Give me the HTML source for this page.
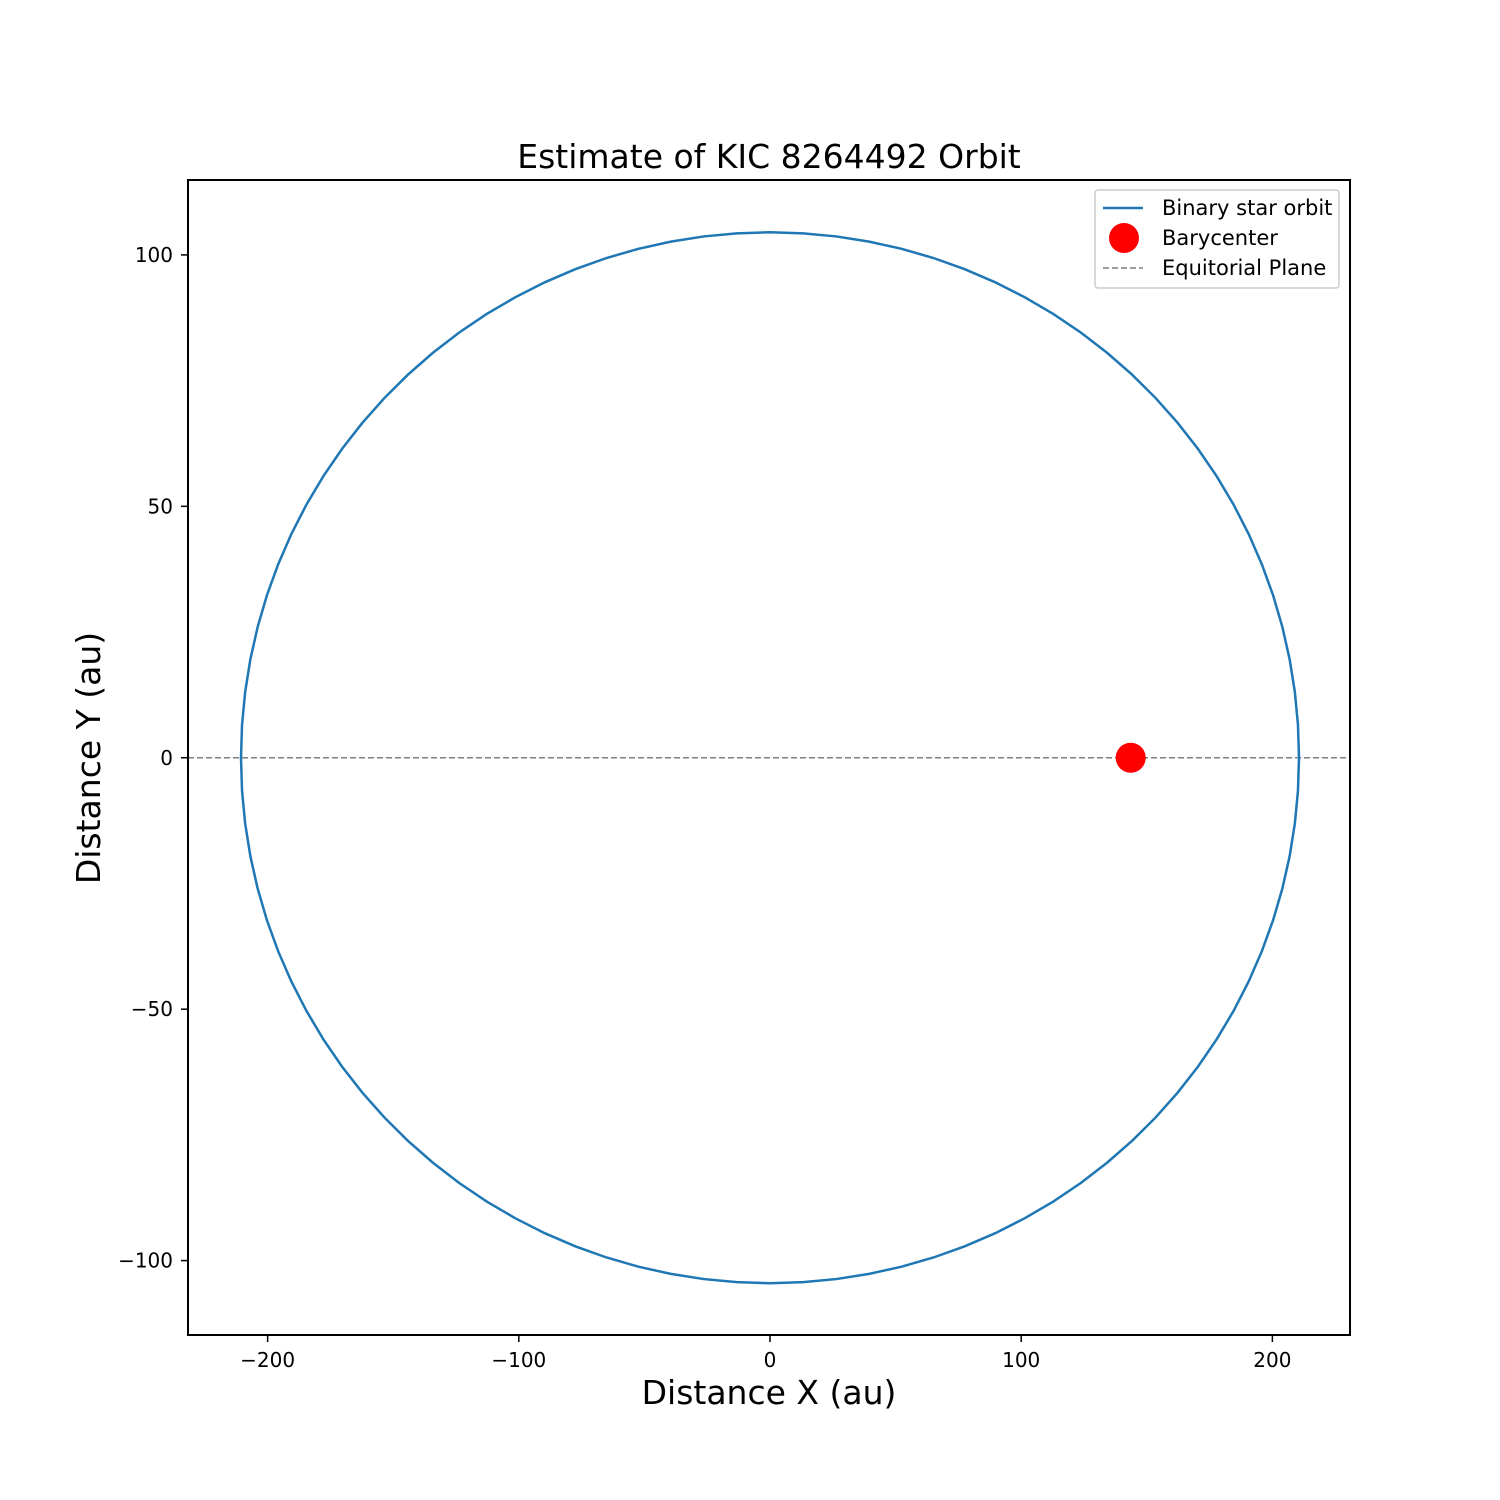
<!DOCTYPE html>
<html><head><meta charset="utf-8"><style>
html,body{margin:0;padding:0;background:#fff;}
svg{display:block;font-family:"DejaVu Sans","Liberation Sans",sans-serif;}
</style></head><body>
<svg id="chart" width="1500" height="1500" viewBox="0 0 1500 1500">
<rect x="0" y="0" width="1500" height="1500" fill="#fff"/>
<g id="plot"></g>
</svg>
<script>
const xTicks = [-200, -100, 0, 100, 200];
const yTicks = [-100, -50, 0, 50, 100];
const orbitSemiAxes = [210.6, 104.5];
const orbitCenter = [0, 0];
const orbitSamples = [100];
const barycenter = [143.6, 0];
const equatorY = [0];
const xDomain = [-231.7, 230.9];
const yDomain = [-114.8, 114.9];

const L=188,R=1350,T=180,B=1335;
function sx(v){return L+(v-xDomain[0])/(xDomain[1]-xDomain[0])*(R-L);}
function sy(v){return B-(v-yDomain[0])/(yDomain[1]-yDomain[0])*(B-T);}
const NS="http://www.w3.org/2000/svg";
const g=document.getElementById('plot');
function el(tag,attrs,parent){const e=document.createElementNS(NS,tag);for(const k in attrs)e.setAttribute(k,attrs[k]);(parent||g).appendChild(e);return e;}

const eq=el('line',{x1:L,x2:R,y1:sy(equatorY[0]),y2:sy(equatorY[0]),stroke:'#808080','stroke-width':1.5,'stroke-dasharray':'6,3'});



let pts=[];
const n=orbitSamples[0];
for(let i=0;i<=n;i++){const t=2*Math.PI*i/n;pts.push(sx(orbitCenter[0]+orbitSemiAxes[0]*Math.cos(t)).toFixed(2)+','+sy(orbitCenter[1]+orbitSemiAxes[1]*Math.sin(t)).toFixed(2));}
const orb=el('polyline',{points:pts.join(' '),fill:'none',stroke:'#1f77b4','stroke-width':2.5});



const bc=el('circle',{cx:sx(barycenter[0]),cy:sy(barycenter[1]),r:15,fill:'#ff0000'});



const fr=el('rect',{x:L,y:T,width:R-L,height:B-T,fill:'none',stroke:'#000','stroke-width':2});



xTicks.forEach(v=>{
  const x=sx(v);
  const tk=el('line',{x1:x,x2:x,y1:B,y2:B+7,stroke:'#000','stroke-width':1.5});
  
  
  const t=el('text',{x:x,y:B+32,'text-anchor':'middle','font-size':20});
  t.textContent=(v<0?'\u2212'+(-v):v);
  
  
});
yTicks.forEach(v=>{
  const y=sy(v);
  const tk=el('line',{x1:L-7,x2:L,y1:y,y2:y,stroke:'#000','stroke-width':1.5});
  
  
  const t=el('text',{x:L-15,y:y+7,'text-anchor':'end','font-size':20});
  t.textContent=(v<0?'\u2212'+(-v):v);
  
  
});
</script>
<svg style="position:absolute;left:0;top:0" width="1500" height="1500">
<text x="769" y="168" text-anchor="middle" font-size="33" font-family="DejaVu Sans,sans-serif">Estimate of KIC 8264492 Orbit</text>
<text x="769" y="1404" text-anchor="middle" font-size="33" font-family="DejaVu Sans,sans-serif">Distance X (au)</text>
<text x="0" y="0" transform="translate(100,758) rotate(-90)" text-anchor="middle" font-size="33" font-family="DejaVu Sans,sans-serif">Distance Y (au)</text>
<g font-family="DejaVu Sans,sans-serif" font-size="21">
<rect x="1095" y="190" width="244" height="98" rx="3" fill="#fff" fill-opacity="0.8" stroke="#ccc" stroke-width="1.5"/>
<line x1="1103" x2="1143" y1="208" y2="208" stroke="#1f77b4" stroke-width="2.5"/>
<text x="1162" y="215">Binary star orbit</text>
<circle cx="1124" cy="238" r="15" fill="#ff0000"/>
<text x="1162" y="245">Barycenter</text>
<line x1="1103" x2="1143" y1="268" y2="268" stroke="#808080" stroke-width="1.5" stroke-dasharray="6,3"/>
<text x="1162" y="275">Equitorial Plane</text>
</g>
</svg>
</body></html>
